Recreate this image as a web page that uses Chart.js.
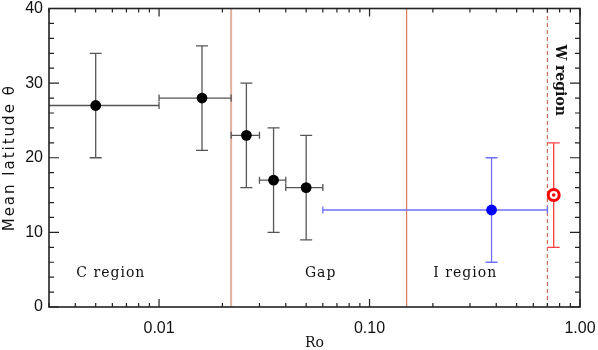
<!DOCTYPE html>
<html>
<head>
<meta charset="utf-8">
<script src="https://cdn.jsdelivr.net/npm/chart.js@4.4.1/dist/chart.umd.min.js"></script>
<style>
  html, body { margin: 0; padding: 0; background: #fff; }
  #wrap { position: relative; width: 598px; height: 350px; }
</style>
</head>
<body>
<div id="wrap"><canvas id="c"></canvas></div>
<script>
// Binned stars (black)
const roBin    = [0.005, 0.016, 0.026, 0.035, 0.050];
const latBin   = [27, 28, 23, 17, 16];
const roBinLo  = [0.002, 0.010, 0.022, 0.030, 0.040];
const roBinHi  = [0.010, 0.022, 0.030, 0.040, 0.060];
const latBinLo = [20, 21, 16, 10, 9];
const latBinHi = [34, 35, 30, 24, 23];

// I region (blue)
const roI    = [0.38];
const latI   = [13];
const roILo  = [0.06];
const roIHi  = [0.70];
const latILo = [6];
const latIHi = [20];

// W region (red)
const roW    = [0.75];
const latW   = [15];
const latWLo = [8];
const latWHi = [22];

// region boundaries
const boundaryRo  = [0.022, 0.15];
const boundaryCol = ['#e2b09f', '#d77f62'];
const wBoundaryRo = [0.70];

// axes
const xMin = 0.003, xMax = 1.0;
const yMin = 0, yMax = 40;
const xTickVals   = [0.01, 0.1, 1];
const xTickLabels = ['0.01', '0.10', '1.00'];
const yTickVals   = [0, 10, 20, 30, 40];

// in-plot labels
const regionText = ['C region', 'Gap', 'I region'];
const regionRo   = [0.0059, 0.0586, 0.285];
const regionLat  = [4.5, 4.5, 4.5];
const wText = 'W region';
const wRo = 0.80, wLat = 30.4;

const pts = (xs, ys) => xs.map((x, i) => ({ x: x, y: ys[i] }));
const vline = x => [{ x: x, y: yMin }, { x: x, y: yMax }];

const datasets = [];
boundaryRo.forEach((r, i) => datasets.push({
  type: 'line', data: vline(r), borderColor: boundaryCol[i],
  borderWidth: i === 0 ? 2 : 1.3, pointRadius: 0, order: 10
}));
wBoundaryRo.forEach(r => datasets.push({
  type: 'line', data: vline(r), borderColor: '#c8705c',
  borderWidth: 1.2, borderDash: [4, 3], pointRadius: 0, order: 10
}));
datasets.push({
  data: pts(roBin, latBin), backgroundColor: '#000', borderWidth: 0,
  pointRadius: 5.4, order: 3,
  err: { xLo: roBinLo, xHi: roBinHi, yLo: latBinLo, yHi: latBinHi, color: '#555' }
});
datasets.push({
  data: pts(roI, latI), backgroundColor: '#0000ff', borderWidth: 0,
  pointRadius: 5.4, order: 2,
  err: { xLo: roILo, xHi: roIHi, yLo: latILo, yHi: latIHi, color: '#7070ff' }
});
datasets.push({
  data: pts(roW, latW), backgroundColor: '#fff', borderColor: '#ff0000',
  borderWidth: 3, pointRadius: 5.5, order: 1,
  err: { yLo: latWLo, yHi: latWHi, color: '#ff4040' }
});
datasets.push({
  data: pts(roW, latW), backgroundColor: '#ff0000', borderWidth: 0,
  pointRadius: 1.8, order: 0
});

// error bars drawn just before their points
const errorBars = {
  id: 'errorBars',
  beforeDatasetDraw(chart, args) {
    const ds = chart.data.datasets[args.index];
    if (!ds.err) return;
    const e = ds.err, xs = chart.scales.x, ys = chart.scales.y, ca = chart.chartArea;
    const ctx = chart.ctx;
    ctx.save();
    ctx.beginPath();
    ctx.rect(ca.left, ca.top, ca.right - ca.left, ca.bottom - ca.top);
    ctx.clip();
    ctx.strokeStyle = e.color;
    ctx.lineWidth = 1.3;
    ds.data.forEach((p, i) => {
      const px = xs.getPixelForValue(p.x), py = ys.getPixelForValue(p.y);
      ctx.beginPath();
      if (e.yLo) {
        const y1 = ys.getPixelForValue(e.yLo[i]), y2 = ys.getPixelForValue(e.yHi[i]);
        ctx.moveTo(px, y1); ctx.lineTo(px, y2);
        ctx.moveTo(px - 6, y1); ctx.lineTo(px + 6, y1);
        ctx.moveTo(px - 6, y2); ctx.lineTo(px + 6, y2);
      }
      if (e.xLo) {
        const x1 = xs.getPixelForValue(e.xLo[i]), x2 = xs.getPixelForValue(e.xHi[i]);
        ctx.moveTo(x1, py); ctx.lineTo(x2, py);
        ctx.moveTo(x1, py - 3.5); ctx.lineTo(x1, py + 3.5);
        ctx.moveTo(x2, py - 3.5); ctx.lineTo(x2, py + 3.5);
      }
      ctx.stroke();
    });
    ctx.restore();
  }
};

// IDL-style frame: box, inward ticks on all four sides, titles and labels
const frame = {
  id: 'frame',
  afterDraw(chart) {
    const ctx = chart.ctx, ca = chart.chartArea;
    const xs = chart.scales.x, ys = chart.scales.y;
    ctx.save();
    ctx.strokeStyle = '#222';
    ctx.lineWidth = 1.2;
    ctx.beginPath();
    // y ticks, major every 10, minor every 2
    for (let v = yMin; v <= yMax; v += 2) {
      const y = ys.getPixelForValue(v);
      const len = v % 10 === 0 ? 10 : 5;
      ctx.moveTo(ca.left, y); ctx.lineTo(ca.left + len, y);
      ctx.moveTo(ca.right, y); ctx.lineTo(ca.right - len, y);
    }
    // x ticks, log minor
    const xt = [];
    [0.001, 0.01, 0.1].forEach(d => { for (let k = 1; k <= 9; k++) xt.push([k * d, k === 1]); });
    xt.push([1, true]);
    xt.forEach(([v, major]) => {
      if (v < xMin * 0.999 || v > xMax * 1.001) return;
      const x = xs.getPixelForValue(v);
      const len = major ? 8 : 4;
      ctx.moveTo(x, ca.bottom); ctx.lineTo(x, ca.bottom - len);
      ctx.moveTo(x, ca.top); ctx.lineTo(x, ca.top + len);
    });
    ctx.stroke();
    ctx.lineWidth = 1.6;
    ctx.strokeRect(ca.left, ca.top, ca.right - ca.left, ca.bottom - ca.top);

    ctx.fillStyle = '#111';
    ctx.textAlign = 'center';
    ctx.textBaseline = 'middle';
    // region labels
    ctx.font = '14px "DejaVu Serif"';
    ctx.letterSpacing = '1px';
    regionText.forEach((t, i) => {
      ctx.fillText(t, xs.getPixelForValue(regionRo[i]), ys.getPixelForValue(regionLat[i]));
    });
    // W region, rotated
    ctx.save();
    ctx.letterSpacing = '0px';
    ctx.font = 'bold 14px "DejaVu Serif"';
    ctx.translate(xs.getPixelForValue(wRo), ys.getPixelForValue(wLat));
    ctx.rotate(Math.PI / 2);
    ctx.fillText(wText, 0, 0);
    ctx.restore();
    // axis titles
    ctx.letterSpacing = '0px';
    ctx.font = '14px "DejaVu Serif"';
    ctx.fillText('Ro', (ca.left + ca.right) / 2, 343);
    ctx.save();
    ctx.font = '15px "DejaVu Sans"';
    ctx.letterSpacing = '2px';
    ctx.translate(10, (ca.top + ca.bottom) / 2);
    ctx.rotate(-Math.PI / 2);
    ctx.fillText('Mean latitude \u03B8', 0, 0);
    ctx.restore();
    ctx.restore();
  }
};

new Chart(document.getElementById('c'), {
  type: 'scatter',
  data: { datasets: datasets },
  plugins: [errorBars, frame],
  options: {
    responsive: true,
    maintainAspectRatio: false,
    animation: false,
    devicePixelRatio: 1,
    layout: { padding: { left: 0, right: 18, top: 3, bottom: 0 } },
    plugins: { legend: { display: false }, tooltip: { enabled: false } },
    scales: {
      x: {
        type: 'logarithmic', min: xMin, max: xMax, bounds: 'data',
        grid: { display: false, drawTicks: false },
        border: { display: false },
        afterBuildTicks: s => { s.ticks = xTickVals.map(v => ({ value: v })); },
        afterFit: s => { s.height = 43; s.paddingLeft = 0; s.paddingRight = 0; },
        ticks: {
          padding: 12, color: '#111', maxRotation: 0, autoSkip: false,
          font: { family: '"Liberation Sans"', size: 16 },
          callback: v => xTickLabels[xTickVals.indexOf(v)]
        }
      },
      y: {
        min: yMin, max: yMax,
        grid: { display: false, drawTicks: false },
        border: { display: false },
        afterBuildTicks: s => { s.ticks = yTickVals.map(v => ({ value: v })); },
        afterFit: s => { s.width = 49; s.paddingTop = 0; s.paddingBottom = 0; },
        ticks: {
          padding: 6, color: '#111',
          font: { family: '"Liberation Sans"', size: 16 }
        }
      }
    }
  }
});
</script>
</body>
</html>
